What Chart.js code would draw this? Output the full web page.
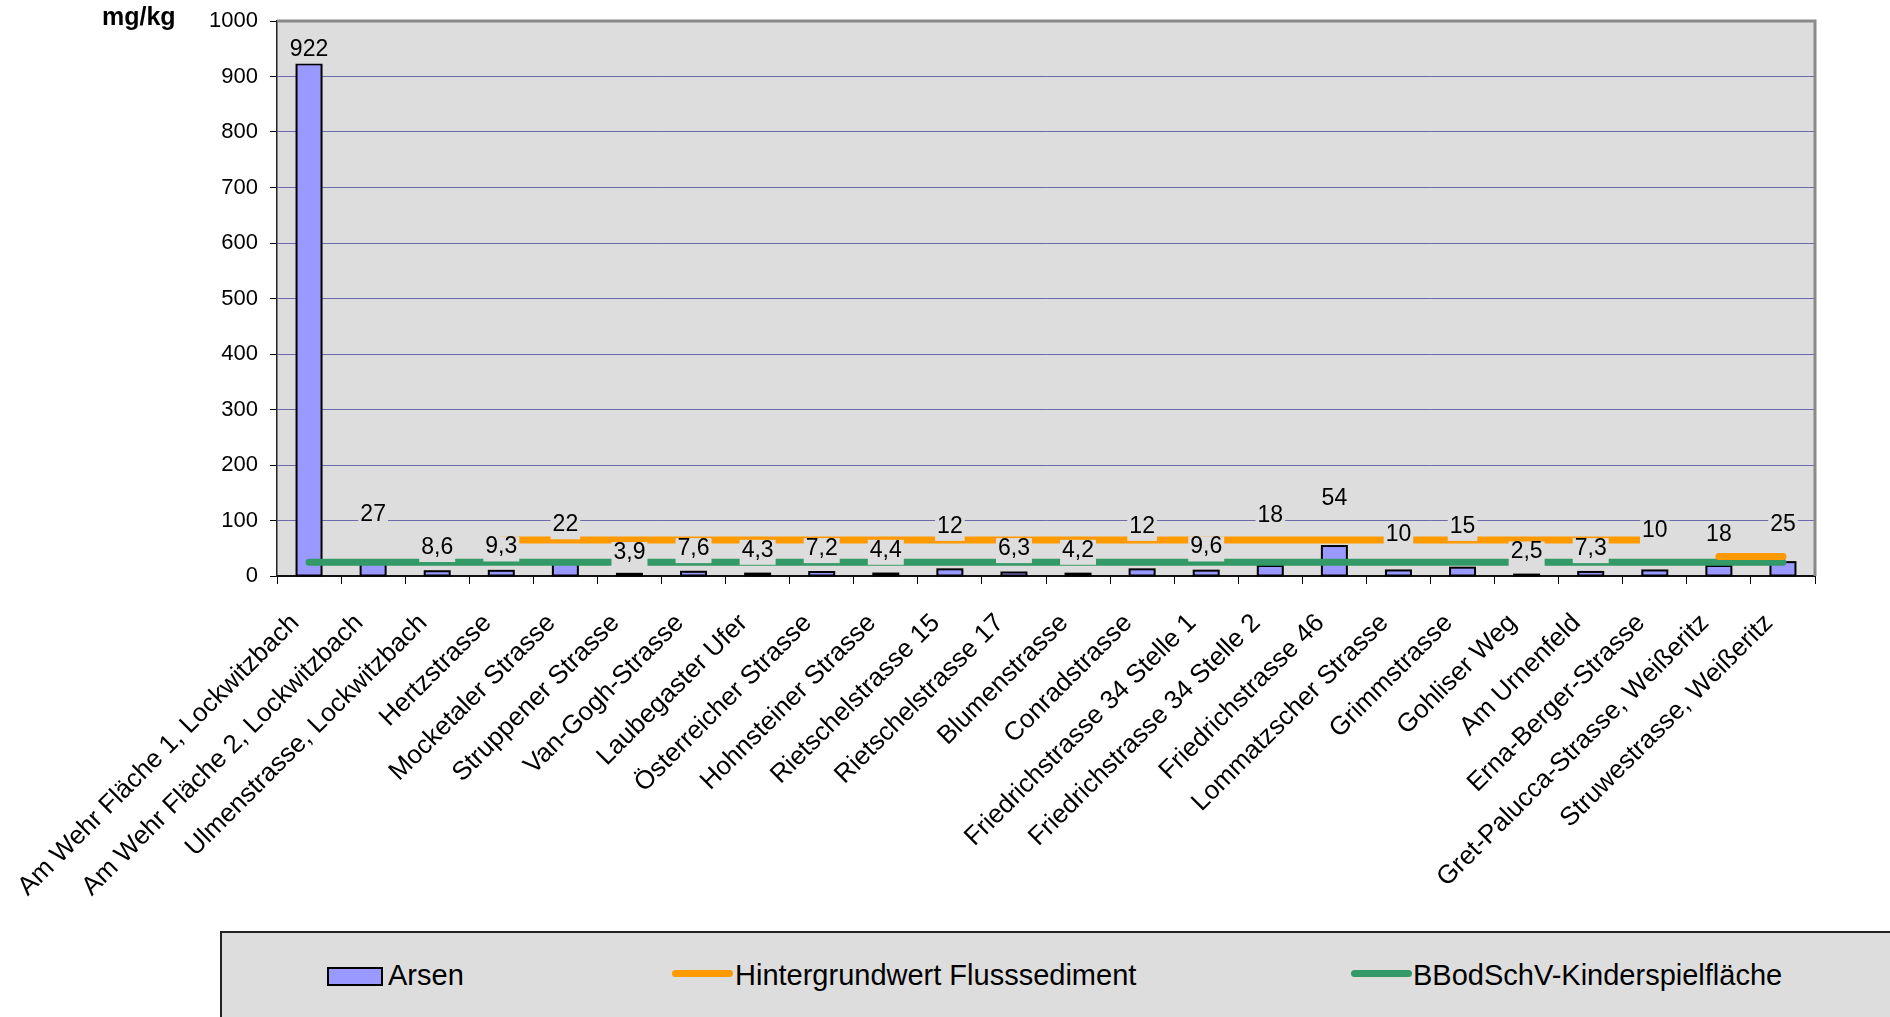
<!DOCTYPE html>
<html>
<head>
<meta charset="utf-8">
<script src="https://cdn.jsdelivr.net/npm/chart.js@4"></script>
<style>
  html, body { margin: 0; padding: 0; background: #fff; overflow: hidden; }
  #wrap { position: relative; width: 1890px; height: 1017px; font-family: "Liberation Sans", Arial, sans-serif; }
  #chart { position: absolute; left: 0; top: 0; }
  #unit { position: absolute; left: 102px; top: 4px; font-weight: bold; font-size: 25px; line-height: 1; }
  #legend { position: absolute; left: 220px; top: 931px; width: 1700px; height: 100px; background: #dddddd; border-top: 2px solid #222; border-left: 2px solid #222; }
  .mark { position: absolute; box-sizing: border-box; }
  .txt { position: absolute; top: 961px; font-size: 29px; line-height: 29px; white-space: nowrap; }
</style>
</head>
<body>
<div id="wrap">
  <canvas id="chart" width="1890" height="1017"></canvas>
  <div id="unit">mg/kg</div>
  <div id="legend"></div>
</div>
<script>
// Messstellen
const categories = [
  'Am Wehr Fläche 1, Lockwitzbach', 'Am Wehr Fläche 2, Lockwitzbach', 'Ulmenstrasse, Lockwitzbach',
  'Hertzstrasse', 'Mocketaler Strasse', 'Struppener Strasse', 'Van-Gogh-Strasse', 'Laubegaster Ufer',
  'Österreicher Strasse', 'Hohnsteiner Strasse', 'Rietschelstrasse 15', 'Rietschelstrasse 17',
  'Blumenstrasse', 'Conradstrasse', 'Friedrichstrasse 34 Stelle 1', 'Friedrichstrasse 34 Stelle 2',
  'Friedrichstrasse 46', 'Lommatzscher Strasse', 'Grimmstrasse', 'Gohliser Weg', 'Am Urnenfeld',
  'Erna-Berger-Strasse', 'Gret-Palucca-Strasse, Weißeritz', 'Struwestrasse, Weißeritz'
]

// Arsen, mg/kg
const arsen = [922, 27, 8.6, 9.3, 22, 3.9, 7.6, 4.3, 7.2, 4.4, 12, 6.3, 4.2, 12, 9.6, 18, 54, 10, 15, 2.5, 7.3, 10, 18, 25]

// Hintergrundwert Flusssediment (Elbe / Weißeritz), mg/kg
const hintergrundElbe = [null, null, null, 65, 65, 65, 65, 65, 65, 65, 65, 65, 65, 65, 65, 65, 65, 65, 65, 65, 65, 65, null, null]
const hintergrundWeisseritz = [null, null, null, null, null, null, null, null, null, null, null, null, null, null, null, null, null, null, null, null, null, null, 35, 35]

// BBodSchV Prüfwert Kinderspielfläche, mg/kg
const kinderspiel = categories.map(() => 25)

// y-Achse
const yTicks = [0, 100, 200, 300, 400, 500, 600, 700, 800, 900, 1000]

// Höhe (in mg/kg) an der die Wertbeschriftung steht
const labelLevels = [952, 113, 54, 55, 95, 45, 52, 49, 52, 49, 92, 52, 49, 92, 55, 111, 143, 78, 92, 46, 52, 84, 78, 95]

const PLOT_BG = '#dddddd'
const FONT = '"Liberation Sans", Arial, sans-serif'

const plotFrame = {
  id: 'plotFrame',
  beforeDraw(chart) {
    const { ctx, chartArea: a } = chart
    ctx.save()
    ctx.fillStyle = PLOT_BG
    ctx.fillRect(a.left, a.top, a.right - a.left, a.bottom - a.top)
    ctx.restore()
  },
  beforeDatasetsDraw(chart) {
    const { ctx, chartArea: a } = chart
    ctx.save()
    ctx.strokeStyle = '#8a8a8a'
    ctx.lineWidth = 3
    ctx.beginPath()
    ctx.moveTo(a.left, a.top)
    ctx.lineTo(a.right, a.top)
    ctx.lineTo(a.right, a.bottom)
    ctx.stroke()
    ctx.restore()
  }
}

// Excel-artiger Balkenrand: auf der Kante zentriert, damit auch kleine Werte sichtbar bleiben
const barOutline = {
  id: 'barOutline',
  afterDatasetDraw(chart, args) {
    if (args.index !== 0) return
    const { ctx } = chart
    ctx.save()
    ctx.strokeStyle = '#000'
    ctx.lineWidth = 2
    args.meta.data.forEach(b => {
      const { x, y, base, width } = b.getProps(['x', 'y', 'base', 'width'], true)
      ctx.strokeRect(x - width / 2, y, width, base - y)
    })
    ctx.restore()
  }
}

const valueLabels = {
  id: 'valueLabels',
  afterDatasetsDraw(chart) {
    const { ctx } = chart
    const y = chart.scales.y
    const bars = chart.getDatasetMeta(0).data
    ctx.save()
    ctx.font = '23px ' + FONT
    ctx.textAlign = 'center'
    ctx.textBaseline = 'alphabetic'
    arsen.forEach((v, i) => {
      const txt = v.toLocaleString('de-DE')
      const cx = bars[i].x
      const cy = y.getPixelForValue(labelLevels[i])
      const w = ctx.measureText(txt).width + 4
      ctx.fillStyle = PLOT_BG
      ctx.fillRect(cx - w / 2, cy - 9, w, 25)
      ctx.fillStyle = '#000'
      ctx.fillText(txt, cx, cy + 8)
    })
    ctx.restore()
  }
}

const chart = new Chart(document.getElementById('chart'), {
  type: 'bar',
  data: {
    labels: categories,
    datasets: [
      {
        label: 'Arsen', data: arsen, order: 3,
        backgroundColor: '#9999ff', borderColor: '#000', borderWidth: 0, inflateAmount: 0,
        barPercentage: 0.39, categoryPercentage: 1
      },
      {
        type: 'line', label: 'Hintergrundwert Flusssediment', data: hintergrundElbe, order: 1,
        borderColor: '#ff9900', borderWidth: 7, borderCapStyle: 'round', pointRadius: 0, spanGaps: false
      },
      {
        type: 'line', label: 'Hintergrundwert Flusssediment (Weißeritz)', data: hintergrundWeisseritz, order: 1,
        borderColor: '#ff9900', borderWidth: 7, borderCapStyle: 'round', pointRadius: 0, spanGaps: false
      },
      {
        type: 'line', label: 'BBodSchV-Kinderspielfläche', data: kinderspiel, order: 2,
        borderColor: '#339966', borderWidth: 7, borderCapStyle: 'round', pointRadius: 0
      }
    ]
  },
  options: {
    responsive: false,
    animation: false,
    devicePixelRatio: 1,
    layout: { padding: { left: 0, top: 21, right: 75, bottom: 0 } },
    plugins: { legend: { display: false }, tooltip: { enabled: false } },
    scales: {
      x: {
        grid: { offset: true, drawOnChartArea: false, tickLength: 8, color: '#000', tickColor: '#000' },
        border: { color: '#111', width: 2 },
        ticks: {
          font: { size: 26, family: FONT }, color: '#000', maxRotation: 45, minRotation: 45,
          padding: 24, labelOffset: -14, autoSkip: false
        },
        afterFit(s) { s.height = 1017 - 576; s.paddingLeft = 0; s.paddingRight = 0 }
      },
      y: {
        min: 0, max: 1000,
        afterBuildTicks(s) { s.ticks = yTicks.map(v => ({ value: v })) },
        grid: { color: '#6b6bab', lineWidth: 1, tickLength: 7, tickColor: '#000' },
        border: { color: '#222', width: 1.5 },
        ticks: { font: { size: 22, family: FONT }, color: '#000', padding: 12, callback: v => String(v) },
        afterFit(s) { s.width = 277; s.paddingTop = 0; s.paddingBottom = 0 }
      }
    }
  },
  plugins: [plotFrame, barOutline, valueLabels]
})

// Legende
const legendItems = [
  { ds: 0, markX: 327, textX: 388 },
  { ds: 1, markX: 672, textX: 735 },
  { ds: 3, markX: 1351, textX: 1413 }
]
const wrap = document.getElementById('wrap')
legendItems.forEach(it => {
  const ds = chart.data.datasets[it.ds]
  const m = document.createElement('div')
  m.className = 'mark'
  if (ds.type === 'line') {
    Object.assign(m.style, { left: it.markX + 'px', top: '970px', width: '61px', height: '7px', borderRadius: '4px', background: ds.borderColor })
  } else {
    Object.assign(m.style, { left: it.markX + 'px', top: '967px', width: '56px', height: '19px', background: ds.backgroundColor, border: '2px solid #000' })
  }
  wrap.appendChild(m)
  const t = document.createElement('div')
  t.className = 'txt'
  t.style.left = it.textX + 'px'
  t.textContent = ds.label
  wrap.appendChild(t)
})
</script>
</body>
</html>
